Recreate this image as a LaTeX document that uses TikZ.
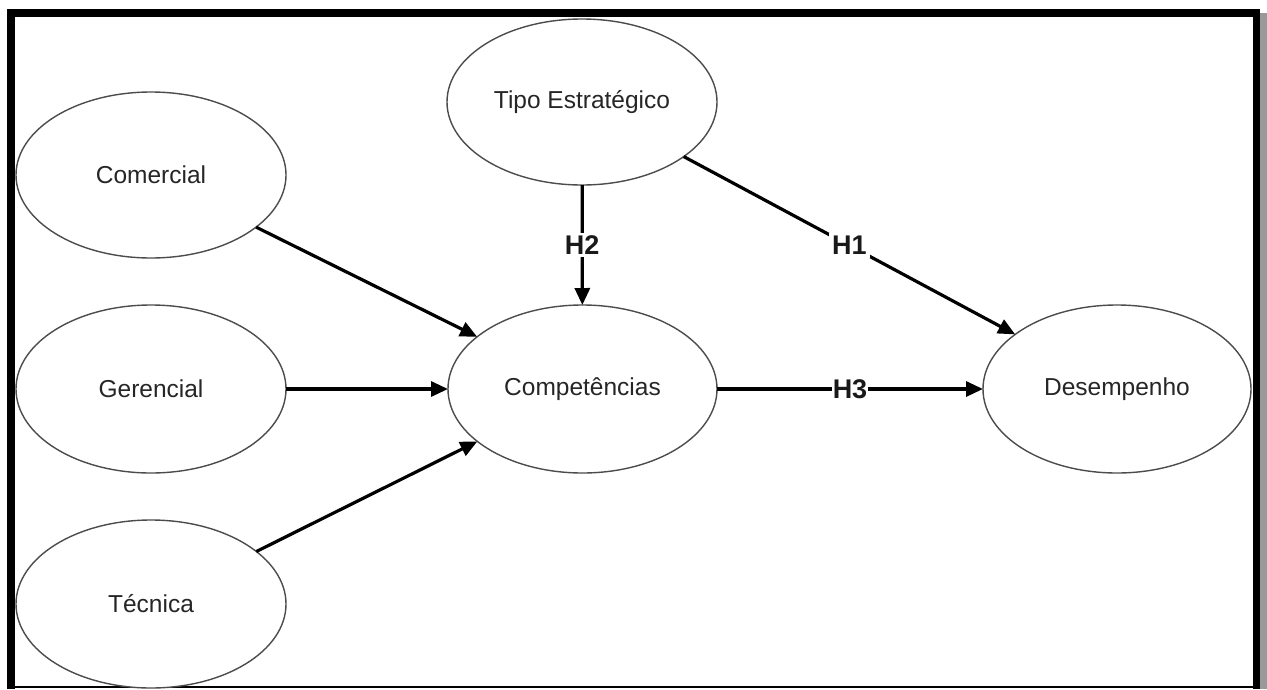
\documentclass[tikz,border=0pt]{standalone}
\usepackage{fontspec}
\setmainfont{Liberation Sans}
\usetikzlibrary{shapes.geometric,arrows.meta}

\tikzset{
  construct/.style={ellipse, draw=black!70, line width=1.4pt, fill=white,
    inner sep=0pt, outer sep=0pt, text=black!85,
    font=\fontsize{24.5}{29}\selectfont},
  path arrow/.style={line width=3.2pt, black,
    -{Triangle[length=17pt,width=15pt]}},
  hyp/.style={fill=white, inner sep=3pt, text=black!90,
    font=\fontsize{27}{32}\selectfont\bfseries},
}

\begin{document}
\begin{tikzpicture}[x=1pt,y=-1pt]
  % canvas
  \useasboundingbox (0,0) rectangle (1267,689);
  \fill[white] (0,0) rectangle (1267,689);

  % frame
  \fill[black] (7,9) rectangle (1260,17);
  \fill[black] (7,9) rectangle (15,689);
  \fill[black] (1253,9) rectangle (1260,689);
  \fill[black!40] (1260,13) rectangle (1267,689);
  \draw[black, line width=1.5pt] (7,687) -- (1260,687);

  % constructs
  \node[construct, minimum width=270pt, minimum height=166pt] (com)  at (151,175)   {Comercial};
  \node[construct, minimum width=270pt, minimum height=168pt] (ger)  at (151,389)   {Gerencial};
  \node[construct, minimum width=270pt, minimum height=168pt] (tec)  at (151,604)   {Técnica};
  \node[construct, minimum width=270pt, minimum height=166pt] (tipo) at (582,102)   {Tipo Estratégico};
  \node[construct, minimum width=269pt, minimum height=168pt] (comp) at (582.5,389) {Competências};
  \node[construct, minimum width=268pt, minimum height=168pt] (des)  at (1117,389)  {Desempenho};

  % paths
  \draw[path arrow] (com) -- (comp);
  \draw[path arrow] (ger) -- (comp);
  \draw[path arrow] (tec) -- (comp);
  \draw[path arrow] (tipo) -- node[hyp, midway] {H2} (comp);
  \draw[path arrow] (tipo) -- node[hyp, midway] {H1} (des);
  \draw[path arrow] (comp) -- node[hyp, midway, inner xsep=1pt] {H3} (des);
\end{tikzpicture}
\end{document}
